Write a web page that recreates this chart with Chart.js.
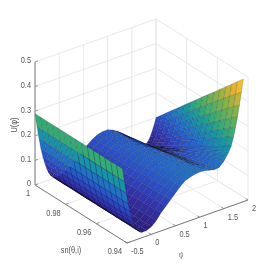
<!DOCTYPE html>
<html>
<head>
<meta charset="utf-8">
<script src="https://cdn.jsdelivr.net/npm/chart.js@4"></script>
<style>
  html, body { margin: 0; padding: 0; background: #fff; }
  canvas { display: block; filter: blur(0.5px); }
</style>
</head>
<body>
<canvas id="c" width="273" height="273"></canvas>
<script>
// values
const phiValues = [-.5,-.46,-.42,-.38,-.34,-.3,-.26,-.22,-.18,-.14,-.1,0,.1,.2,.3,.4,.5,.6,.7,.8,.9,1,1.1,1.2,1.3,1.4,1.5,1.6,1.65,1.7,1.75,1.8,1.84,1.88,1.92,1.96,2];
const snValues = [1,.9962,.9924,.9886,.9848,.981,.9772,.9734,.9696,.9658,.962,.9582,.9544,.9506,.9468,.943];
// one row per phi value, one column per sn value
const uRows = [
  [.29,.29,.29,.29,.29,.29,.29,.29,.29,.29,.29,.29,.29,.29,.29,.29],
  [.235,.235,.235,.235,.235,.235,.235,.235,.235,.235,.235,.235,.235,.235,.235,.235],
  [.185,.185,.185,.185,.185,.185,.185,.185,.185,.185,.185,.185,.185,.185,.185,.185],
  [.14,.14,.14,.14,.14,.14,.14,.14,.14,.14,.14,.14,.14,.14,.14,.14],
  [.105,.105,.105,.105,.105,.105,.105,.105,.105,.105,.105,.105,.105,.105,.105,.105],
  [.075,.075,.075,.075,.075,.075,.075,.075,.075,.075,.075,.075,.075,.075,.075,.075],
  [.05,.05,.05,.05,.05,.05,.05,.05,.05,.05,.05,.05,.05,.05,.05,.05],
  [.03,.03,.03,.03,.03,.03,.03,.03,.03,.03,.03,.03,.03,.03,.03,.03],
  [.017,.017,.017,.017,.017,.017,.017,.017,.017,.017,.017,.017,.017,.017,.017,.017],
  [.008,.008,.008,.008,.008,.008,.008,.008,.008,.008,.008,.008,.008,.008,.008,.008],
  [.003,.003,.003,.003,.003,.003,.003,.003,.003,.003,.003,.003,.003,.003,.003,.003],
  [.002,.002,.002,.002,.002,.003,.003,.003,.003,.003,.003,.004,.004,.004,.004,.004],
  [.008,.008,.009,.009,.009,.009,.01,.01,.01,.01,.011,.011,.011,.011,.012,.012],
  [.02,.021,.021,.022,.023,.023,.024,.025,.025,.026,.027,.027,.028,.029,.029,.03],
  [.035,.036,.038,.039,.04,.042,.043,.044,.046,.047,.048,.05,.051,.052,.054,.055],
  [.055,.056,.058,.059,.06,.062,.063,.064,.066,.067,.068,.07,.071,.072,.074,.075],
  [.075,.076,.078,.079,.08,.082,.083,.084,.086,.087,.088,.09,.091,.092,.094,.095],
  [.09,.092,.093,.095,.097,.098,.1,.102,.103,.105,.107,.108,.11,.112,.113,.115],
  [.105,.107,.109,.111,.113,.115,.117,.119,.121,.123,.125,.127,.129,.131,.133,.135],
  [.115,.117,.12,.122,.124,.127,.129,.131,.134,.136,.138,.141,.143,.145,.148,.15],
  [.12,.123,.125,.128,.13,.133,.135,.138,.14,.143,.145,.148,.15,.153,.155,.158],
  [.12,.123,.126,.129,.131,.134,.137,.14,.143,.146,.149,.152,.154,.157,.16,.163],
  [.112,.116,.119,.123,.126,.13,.133,.137,.14,.144,.147,.151,.154,.158,.161,.165],
  [.1,.104,.108,.113,.117,.121,.125,.129,.134,.138,.142,.146,.15,.155,.159,.163],
  [.08,.085,.09,.096,.101,.106,.111,.116,.122,.127,.132,.137,.142,.148,.153,.158],
  [.06,.066,.072,.079,.085,.091,.097,.103,.11,.116,.122,.128,.134,.141,.147,.153],
  [.04,.048,.055,.063,.071,.078,.086,.094,.101,.109,.117,.124,.132,.14,.147,.155],
  [.02,.03,.041,.051,.061,.072,.082,.092,.103,.113,.123,.134,.144,.154,.165,.175],
  [.012,.024,.036,.048,.059,.071,.083,.095,.107,.119,.131,.143,.154,.166,.178,.19],
  [.006,.019,.033,.046,.059,.072,.086,.099,.112,.125,.139,.152,.165,.178,.192,.205],
  [.004,.019,.033,.048,.063,.078,.092,.107,.122,.137,.151,.166,.181,.196,.21,.225],
  [.008,.025,.042,.058,.075,.092,.109,.126,.142,.159,.176,.193,.21,.226,.243,.26],
  [.016,.035,.053,.072,.09,.109,.128,.146,.165,.183,.202,.221,.239,.258,.276,.295],
  [.03,.05,.071,.091,.111,.132,.152,.172,.193,.213,.233,.254,.274,.294,.315,.335],
  [.05,.072,.094,.116,.138,.16,.182,.204,.226,.248,.27,.292,.314,.336,.358,.38],
  [.073,.097,.121,.144,.168,.192,.216,.24,.263,.287,.311,.335,.359,.382,.406,.43],
  [.1,.125,.151,.176,.201,.227,.252,.277,.303,.328,.353,.379,.404,.429,.455,.48]
];
const phiTicks = [-.5,0,.5,1,1.5,2];
const phiTickLabels = ["-0.5","0","0.5","1","1.5","2"];
const snTicks = [1,.98,.96,.94];
const snTickLabels = ["1","0.98","0.96","0.94"];
const uTicks = [0,.1,.2,.3,.4,.5];
const uTickLabels = ["0","0.1","0.2","0.3","0.4","0.5"];

// colour ramp as it looks under the dense mesh: [fraction, r, g, b]
const ramp = [[0,46,30,125],[.12,50,52,172],[.2,44,76,195],[.3,35,106,200],[.4,25,140,172],[.45,28,152,155],[.52,52,170,118],[.7,135,178,70],[.85,238,178,45],[1,250,230,30]];
const colorTop = 0.5;

// box projection, orthographic
function project(phi, sn, u) {
  const p = (phi + .5) / 2.5, s = (1 - sn) / .06;
  return { x: 35 + 121 * p + 92 * s, y: 185 - 43 * p + 58 * s - u / .5 * 123 };
}
function floorDepth(phi, sn) { return project(phi, sn, 0).y; }

function colorFor(u, shade) {
  const t = Math.min(Math.max(u / colorTop, 0), 1);
  let i = 0;
  while (i < ramp.length - 2 && t > ramp[i + 1][0]) i++;
  const f = (t - ramp[i][0]) / (ramp[i + 1][0] - ramp[i][0]);
  const c = [1, 2, 3].map(k => Math.round((ramp[i][k] + (ramp[i + 1][k] - ramp[i][k]) * f) * (1 - shade)));
  return `rgb(${c[0]},${c[1]},${c[2]})`;
}

// foreshortened cells look darker since their mesh lines pile up
function meshShade(pts) {
  let area = 0;
  for (let k = 0; k < 4; k++) area += pts[k].x * pts[k + 1].y - pts[k + 1].x * pts[k].y;
  area = Math.abs(area) / 2;
  return Math.min(Math.max((14 - area) / 14, 0), 0.85);
}

// -------------------------- Surface -----------------------
const cells = [];
for (let i = 0; i < phiValues.length - 1; i++) {
  for (let j = 0; j < snValues.length - 1; j++) {
    const corners = [[i, j], [i + 1, j], [i + 1, j + 1], [i, j + 1], [i, j]];
    const mean = (uRows[i][j] + uRows[i + 1][j] + uRows[i + 1][j + 1] + uRows[i][j + 1]) / 4;
    const pts = corners.map(([a, b]) => project(phiValues[a], snValues[b], uRows[a][b]));
    cells.push({
      depth: floorDepth((phiValues[i] + phiValues[i + 1]) / 2, (snValues[j] + snValues[j + 1]) / 2),
      color: colorFor(mean, meshShade(pts)),
      data: pts
    });
  }
}
// first dataset ends up on top, so nearest cell goes first
cells.sort((a, b) => b.depth - a.depth);
const surfaceSets = cells.map(c => ({
  data: c.data, showLine: true, fill: "shape", backgroundColor: c.color,
  borderColor: "rgba(8,8,40,0.3)", borderWidth: 0.5, pointRadius: 0, tension: 0
}));

// -------------------------- Box ---------------------------
function seg(a, b, color, width) {
  return { data: [a, b], showLine: true, fill: false, borderColor: color, borderWidth: width, pointRadius: 0 };
}
const GRID = "#e8e8e8", AXIS = "#7a7a7a";
const boxSets = [];
boxSets.push(seg(project(-.5, 1, 0), project(-.5, 1, .5), AXIS, 1));
boxSets.push(seg(project(-.5, 1, 0), project(-.5, .94, 0), AXIS, 1));
boxSets.push(seg(project(-.5, .94, 0), project(2, .94, 0), AXIS, 1));
phiTicks.forEach(t => {
  boxSets.push(seg(project(t, .94, 0), project(t, .9415, 0), AXIS, 0.8));
  boxSets.push(seg(project(t, 1, 0), project(t, .94, 0), GRID, 1));
  boxSets.push(seg(project(t, 1, 0), project(t, 1, .5), GRID, 1));
});
snTicks.forEach(t => {
  boxSets.push(seg(project(-.5, t, 0), project(-.44, t, 0), AXIS, 0.8));
  boxSets.push(seg(project(-.5, t, 0), project(2, t, 0), GRID, 1));
  boxSets.push(seg(project(2, t, 0), project(2, t, .5), GRID, 1));
});
uTicks.forEach(t => {
  boxSets.push(seg(project(-.5, 1, t), project(-.44, 1, t), AXIS, 0.8));
  boxSets.push(seg(project(-.5, 1, t), project(2, 1, t), GRID, 1));
  boxSets.push(seg(project(2, 1, t), project(2, .94, t), GRID, 1));
});

// -------------------------- Labels ------------------------
function squeezed(ctx, text, x, y, align, angle, italic) {
  ctx.save();
  ctx.translate(x, y);
  if (angle) ctx.rotate(angle);
  ctx.scale(0.82, 1);
  ctx.font = (italic ? "italic " : "") + "9px 'Liberation Sans'";
  ctx.textAlign = align;
  ctx.textBaseline = "middle";
  ctx.fillText(text, 0, 0);
  ctx.restore();
}
const axisLabels = {
  id: "axisLabels",
  afterDraw(chart) {
    const { ctx, scales: { x, y } } = chart;
    const at = (p, dx, dy) => [x.getPixelForValue(p.x) + dx, y.getPixelForValue(p.y) + dy];
    ctx.save();
    ctx.fillStyle = "#555";
    uTicks.forEach((t, i) => {
      const [a, b] = at(project(-.5, 1, t), -4, -1);
      squeezed(ctx, uTickLabels[i], a, b, "right");
    });
    snTicks.forEach((t, i) => {
      const [a, b] = at(project(-.5, t, 0), -5, 9);
      squeezed(ctx, snTickLabels[i], a, b, "right");
    });
    phiTicks.forEach((t, i) => {
      const [a, b] = at(project(t, .94, 0), 4, 8.5);
      squeezed(ctx, phiTickLabels[i], a, b, "left");
    });
    squeezed(ctx, "sn(θ,i)", 71, 251, "center");
    ctx.fillStyle = "#888";
    squeezed(ctx, "φ", 181, 255, "center", -0.3, true);
    ctx.fillStyle = "#555";
    squeezed(ctx, "U(φ)", 15, 125, "center", -Math.PI / 2);
    ctx.restore();
  }
};

new Chart(document.getElementById("c"), {
  type: "scatter",
  data: { datasets: surfaceSets.concat(boxSets) },
  options: {
    responsive: false,
    animation: false,
    layout: { padding: 0 },
    plugins: { legend: { display: false }, tooltip: { enabled: false } },
    elements: { line: { tension: 0 } },
    scales: {
      x: { type: "linear", min: 0, max: 273, display: false },
      y: { type: "linear", min: 0, max: 273, reverse: true, display: false }
    }
  },
  plugins: [axisLabels]
});
</script>
</body>
</html>
